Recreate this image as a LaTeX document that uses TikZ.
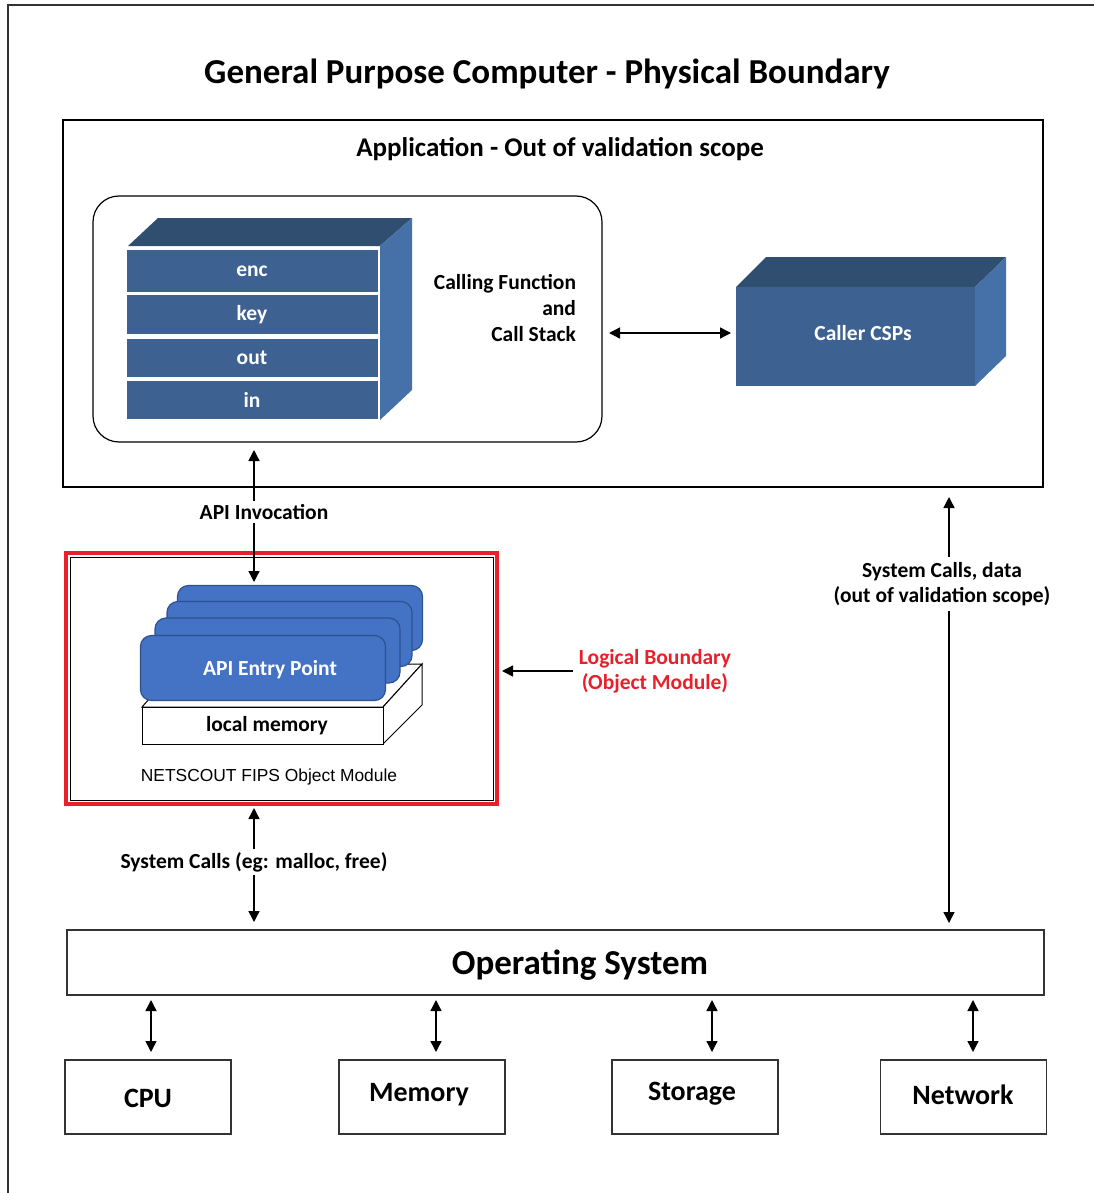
\documentclass[tikz,border=0pt]{standalone}
\usepackage{fontspec}
\setmainfont{Carlito}
\newfontfamily\arialfont{Liberation Sans}
\usetikzlibrary{arrows.meta}
\definecolor{stkfront}{HTML}{3D6190}
\definecolor{stktop}{HTML}{2F4E70}
\definecolor{stkside}{HTML}{4571A8}
\definecolor{apifill}{HTML}{4472C4}
\definecolor{apiedge}{HTML}{2F528F}
\definecolor{boundred}{HTML}{E8202A}
\definecolor{linegray}{HTML}{333333}
\begin{document}
\begin{tikzpicture}[x=1pt,y=-1pt,
  every node/.style={inner sep=0pt,outer sep=0pt},
  plainbox/.style={draw=linegray,line width=1.6pt,fill=white},
  rowbox/.style={fill=stkfront,draw=white,line width=1pt,minimum width=252pt,text=white,font=\fontsize{21.5}{24}\selectfont\bfseries},
  apibox/.style={fill=apifill,draw=apiedge,line width=1.2pt,rounded corners=11pt,minimum width=245pt,minimum height=65pt},
  lbl/.style={font=\fontsize{21.5}{25}\selectfont\bfseries,text=black},
  hwlbl/.style={font=\fontsize{28}{32}\selectfont\bfseries},
  arr/.style={line width=1.4pt,-{Triangle[length=11pt,width=11pt]}},
  darr/.style={line width=1.4pt,{Triangle[length=11pt,width=11pt]}-{Triangle[length=11pt,width=11pt]}}]
\useasboundingbox (0,0) rectangle (1094,1193);
\fill[white] (0,0) rectangle (1094,1193);
% outer physical boundary frame
\draw[linegray,line width=1.6pt] (8,1193) -- (8,5) -- (1094,5);
\node[font=\fontsize{35}{40}\selectfont\bfseries] (title) at (547,74) {General Purpose Computer - Physical Boundary};

% application box
\node[plainbox,minimum width=980pt,minimum height=367pt,line width=1.4pt,draw=black] (app) at (553,303.5) {};
\node[font=\fontsize{27}{30}\selectfont\bfseries] (apptitle) at (560,149) {Application - Out of validation scope};
\node[draw=black,line width=1.2pt,rounded corners=26pt,minimum width=509pt,minimum height=246pt] (callbox) at (347.5,319) {};

% call stack 3D
\fill[stktop] (128,246) -- (158,218) -- (412,218) -- (380,246) -- cycle;
\fill[stkside] (380,246) -- (412,218) -- (412,390) -- (380,420) -- cycle;
\node[rowbox,minimum height=43pt] (enc) at (252,271) {enc};
\node[rowbox,minimum height=40pt] (key) at (252,314.5) {key};
\node[rowbox,minimum height=39pt] (out) at (252,358) {out};
\node[rowbox,minimum height=39pt] (in) at (252,400) {in};
\node[align=right,anchor=east,font=\fontsize{21.5}{26}\selectfont\bfseries] (callfn) at (576,308) {Calling Function\\and\\Call Stack};

% Caller CSPs 3D
\fill[stktop] (736,287) -- (766,257) -- (1006,257) -- (975,287) -- cycle;
\fill[stkside] (975,287) -- (1006,257) -- (1006,356) -- (975,386) -- cycle;
\node[fill=stkfront,minimum width=239pt,minimum height=99pt] (csp) at (855.5,336.5) {};
\node[text=white,font=\fontsize{21.5}{24}\selectfont\bfseries] (csptext) at (863,333) {Caller CSPs};
\coordinate (cspA) at (609,333);
\coordinate (cspB) at (731,333);
\draw[darr] (cspA) -- (cspB);

% object module (red boundary)
\node[draw=boundred,line width=4.5pt,minimum width=431pt,minimum height=251pt] (module) at (281.5,678.5) {};
\node[draw=black,line width=1pt,minimum width=423pt,minimum height=243pt] (moduleinner) at (281.5,678.5) {};

% local memory 3D
\draw[black,line width=1pt,fill=white] (142,707) -- (180,664) -- (422,664) -- (383,707) -- cycle;
\draw[black,line width=1pt,fill=white] (383,707) -- (422,664) -- (422,705) -- (383,744) -- cycle;
\node[draw=black,line width=1pt,fill=white,minimum width=241pt,minimum height=37pt] (localmem) at (262.5,725.5) {};
\node[font=\fontsize{21.5}{24}\selectfont\bfseries] (localmemtext) at (267,726) {local memory};

% API entry point stack
\node[apibox] (api4) at (300,618) {};
\node[apibox] (api3) at (289.5,634) {};
\node[apibox] (api2) at (277.5,650.5) {};
\node[apibox] (api1) at (263,668) {};
\node[font=\fontsize{21.5}{24}\selectfont\bfseries,text=white] (api1text) at (270,670) {API Entry Point};
\node[font=\arialfont\fontsize{17.4}{20}\selectfont] (netscout) at (269,777) {NETSCOUT FIPS Object Module};

% API invocation
\coordinate (apiTop) at (254,450);
\coordinate (apiBot) at (254,582);
\draw[darr] (apiTop) -- (apiBot);
\node[lbl,fill=white,inner sep=3pt] (apiinv) at (264,512) {API Invocation};

% logical boundary
\node[font=\fontsize{21.5}{25}\selectfont\bfseries,text=boundred,align=center] (logb) at (655,671) {Logical Boundary\\(Object Module)};
\coordinate (logArr) at (502,671);
\draw[arr] (logb.west) ++(-6,0) -- (logArr);

% operating system
\node[plainbox,minimum width=977pt,minimum height=65pt] (os) at (555.5,962.5) {};
\node[font=\fontsize{35}{40}\selectfont\bfseries] (ostext) at (580,965) {Operating System};

% system calls from module
\coordinate (scTop) at (254,808);
\coordinate (scBot) at (254,922);
\draw[darr] (scTop) -- (scBot);
\node[lbl,fill=white,inner sep=3pt] (sclbl) at (254,862) {System Calls (eg: malloc, free)};

% system calls from application
\coordinate (rTop) at (949,497);
\coordinate (rBot) at (949,923);
\draw[darr] (rTop) -- (rBot);
\node[lbl,fill=white,inner sep=5pt,align=center] (rlbl) at (942,584) {System Calls, data\\(out of validation scope)};

% hardware
\node[plainbox,minimum width=166pt,minimum height=74pt] (cpu) at (148,1097) {};
\node[plainbox,minimum width=166pt,minimum height=74pt] (mem) at (422,1097) {};
\node[plainbox,minimum width=166pt,minimum height=74pt] (sto) at (695,1097) {};
\node[plainbox,minimum width=166pt,minimum height=74pt] (net) at (963.5,1097) {};
\node[hwlbl] (cputext) at (148,1098) {CPU};
\node[hwlbl] (memtext) at (419,1095) {Memory};
\node[hwlbl] (stotext) at (692,1094) {Storage};
\node[hwlbl] (nettext) at (963,1095) {Network};
\foreach \n/\x in {cpu/151,mem/436,sto/712,net/973}{
  \draw[darr] (\x,1000) -- (\x,1052);
}
\end{tikzpicture}
\end{document}
